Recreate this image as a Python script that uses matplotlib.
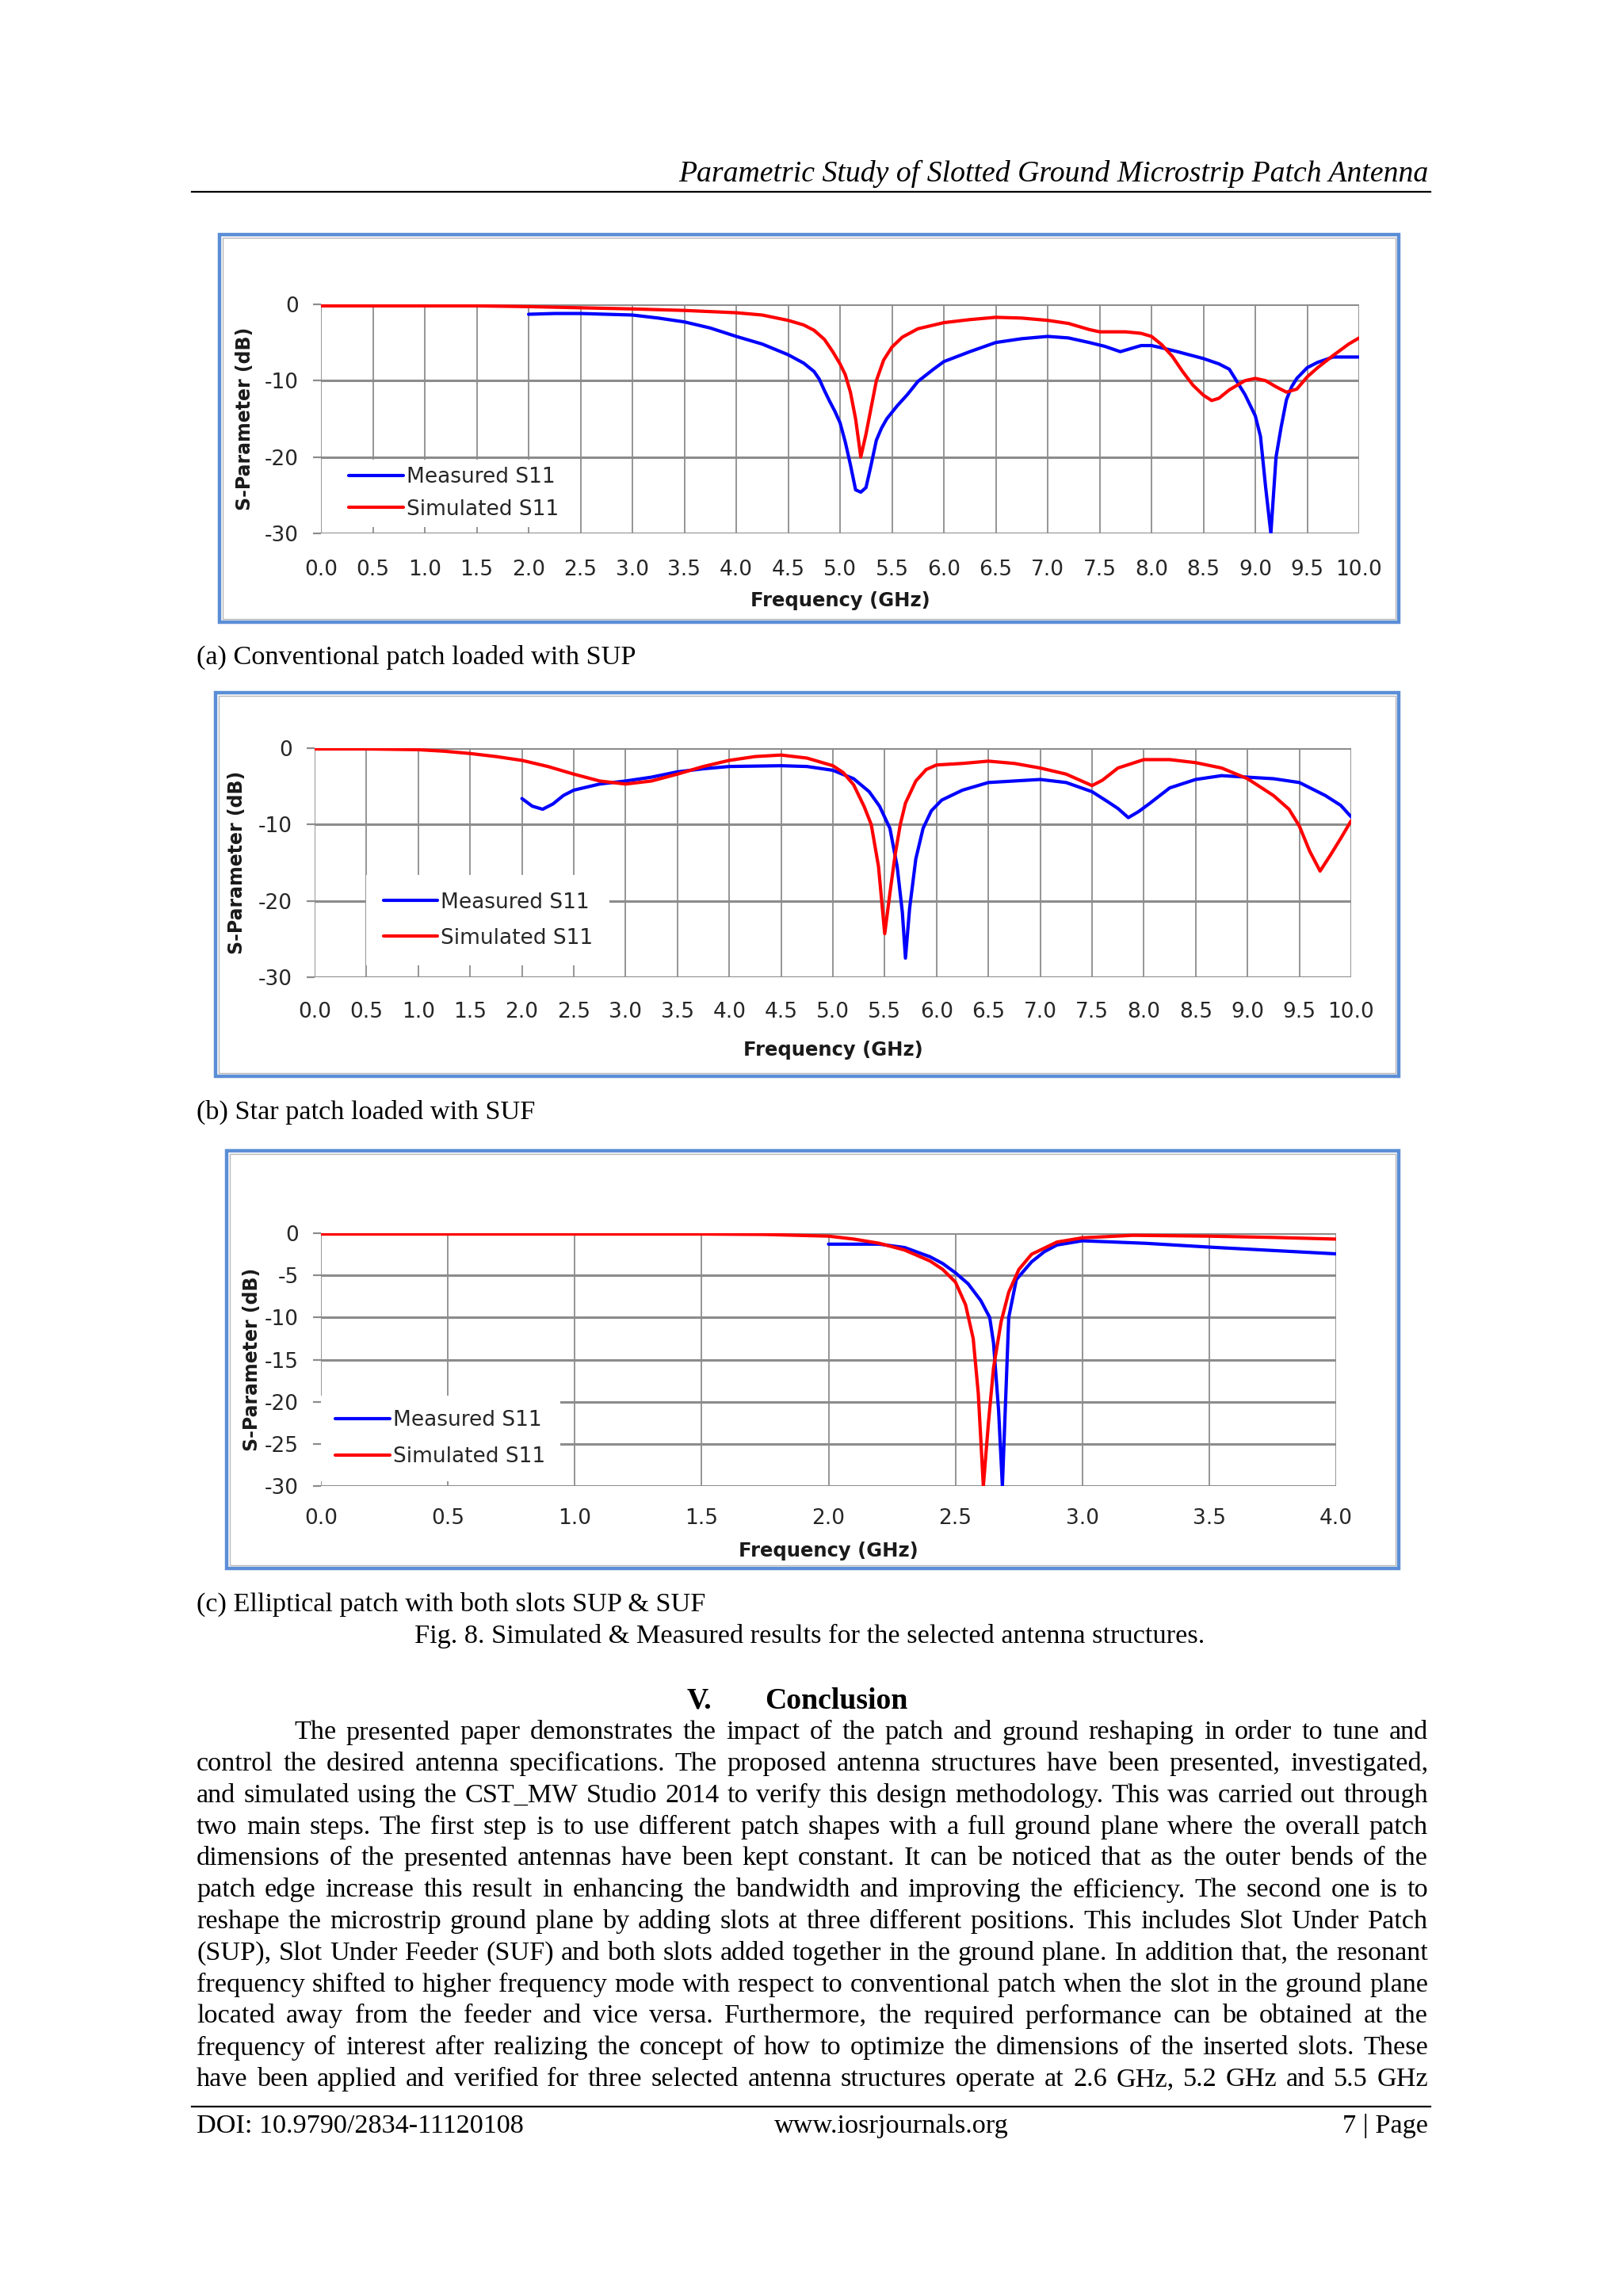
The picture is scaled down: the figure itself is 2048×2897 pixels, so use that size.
import numpy as np
import matplotlib
matplotlib.use("Agg")
import matplotlib.pyplot as plt
from matplotlib.patches import Rectangle
from matplotlib.lines import Line2D

plt.rcParams['axes.unicode_minus'] = False

W, H = 2048, 2897

# ---- data ----
# (a) Conventional patch loaded with SUP
a_sim_f = [0.0, 0.5, 1.0, 1.5, 2.0, 2.5, 3.0, 3.5, 4.0, 4.25, 4.5, 4.65, 4.75, 4.85, 4.93, 5.0, 5.05,
           5.1, 5.15, 5.2, 5.25, 5.3, 5.35, 5.42, 5.5, 5.6, 5.75, 6.0, 6.25, 6.5, 6.75, 7.0, 7.2, 7.4,
           7.5, 7.75, 7.9, 8.0, 8.1, 8.2, 8.3, 8.4, 8.5, 8.58, 8.65, 8.75, 8.9, 9.0, 9.1, 9.2, 9.3,
           9.4, 9.5, 9.6, 9.75, 9.9, 10.0]
a_sim_db = [-0.2, -0.2, -0.2, -0.2, -0.3, -0.45, -0.6, -0.8, -1.1, -1.4, -2.1, -2.7, -3.4, -4.6,
            -6.2, -7.8, -9.2, -11.5, -15.0, -20.0, -17.0, -13.5, -10.0, -7.3, -5.6, -4.3, -3.2, -2.4,
            -2.0, -1.7, -1.8, -2.1, -2.5, -3.3, -3.6, -3.6, -3.8, -4.2, -5.3, -6.8, -8.8, -10.6,
            -11.9, -12.6, -12.3, -11.2, -10.0, -9.7, -10.0, -10.8, -11.5, -11.1, -9.5, -8.3, -6.7,
            -5.2, -4.4]
a_mea_f = [2.0, 2.25, 2.5, 2.75, 3.0, 3.25, 3.5, 3.75, 4.0, 4.25, 4.5, 4.65, 4.75, 4.8, 4.85, 4.9,
           4.95, 5.0, 5.05, 5.1, 5.15, 5.2, 5.25, 5.3, 5.35, 5.4, 5.45, 5.55, 5.65, 5.75, 5.9, 6.0,
           6.25, 6.5, 6.75, 7.0, 7.2, 7.4, 7.55, 7.7, 7.8, 7.9, 8.0, 8.1, 8.25, 8.5, 8.65, 8.75, 8.9,
           9.0, 9.05, 9.1, 9.15, 9.2, 9.25, 9.3, 9.35, 9.4, 9.5, 9.6, 9.75, 9.9, 10.0]
a_mea_db = [-1.3, -1.2, -1.2, -1.3, -1.4, -1.8, -2.3, -3.1, -4.2, -5.2, -6.6, -7.7, -8.8, -9.8,
            -11.3, -12.7, -14.0, -15.5, -18.0, -21.0, -24.3, -24.6, -24.0, -21.0, -17.8, -16.2,
            -15.0, -13.3, -11.8, -10.1, -8.5, -7.5, -6.2, -5.0, -4.5, -4.2, -4.4, -5.0, -5.5, -6.2,
            -5.8, -5.4, -5.4, -5.7, -6.2, -7.1, -7.8, -8.5, -11.8, -14.6, -17.3, -24.0, -30.0,
            -20.0, -16.0, -12.5, -10.8, -9.7, -8.3, -7.6, -6.9, -6.9, -6.9]

# (b) Star patch loaded with SUF
b_sim_f = [0.0, 0.5, 1.0, 1.25, 1.5, 1.75, 2.0, 2.25, 2.5, 2.75, 3.0, 3.25, 3.5, 3.75, 4.0, 4.25,
           4.5, 4.75, 5.0, 5.1, 5.2, 5.3, 5.37, 5.44, 5.5, 5.55, 5.6, 5.65, 5.7, 5.8, 5.9, 6.0, 6.25,
           6.5, 6.75, 7.0, 7.25, 7.4, 7.5, 7.6, 7.75, 8.0, 8.25, 8.5, 8.75, 9.0, 9.25, 9.4, 9.5, 9.6,
           9.7, 9.8, 9.9, 10.0]
b_sim_db = [-0.1, -0.1, -0.2, -0.4, -0.7, -1.1, -1.6, -2.4, -3.4, -4.3, -4.7, -4.3, -3.4, -2.4, -1.6,
            -1.1, -0.9, -1.3, -2.3, -3.2, -4.8, -7.6, -10.0, -15.5, -24.3, -19.0, -14.0, -10.0, -7.2,
            -4.3, -2.8, -2.2, -2.0, -1.7, -2.0, -2.6, -3.4, -4.3, -4.9, -4.2, -2.6, -1.5, -1.5, -1.9,
            -2.6, -4.0, -6.2, -8.0, -10.2, -13.5, -16.1, -14.0, -11.8, -9.5]
b_mea_f = [2.0, 2.1, 2.2, 2.3, 2.4, 2.5, 2.75, 3.0, 3.25, 3.5, 3.75, 4.0, 4.5, 4.75, 5.0, 5.2, 5.35,
           5.45, 5.55, 5.62, 5.67, 5.7, 5.74, 5.8, 5.87, 5.95, 6.05, 6.25, 6.5, 7.0, 7.25, 7.5, 7.65,
           7.75, 7.85, 7.95, 8.05, 8.25, 8.5, 8.75, 9.0, 9.25, 9.5, 9.75, 9.9, 10.0]
b_mea_db = [-6.6, -7.6, -8.0, -7.3, -6.2, -5.5, -4.7, -4.3, -3.8, -3.1, -2.7, -2.4, -2.3, -2.4, -2.9,
            -4.0, -5.7, -7.6, -10.5, -15.5, -21.5, -27.5, -21.0, -14.5, -10.5, -8.2, -6.8, -5.5,
            -4.5, -4.1, -4.5, -5.7, -7.0, -7.9, -9.1, -8.3, -7.3, -5.2, -4.1, -3.6, -3.8, -4.0, -4.5,
            -6.2, -7.5, -9.0]

# (c) Elliptical patch with both slots SUP & SUF
c_sim_f = [0.0, 0.5, 1.0, 1.5, 1.75, 2.0, 2.1, 2.2, 2.3, 2.4, 2.45, 2.5, 2.54, 2.57, 2.59, 2.61, 2.63,
           2.65, 2.68, 2.71, 2.75, 2.8, 2.9, 3.0, 3.2, 3.5, 3.75, 4.0]
c_sim_db = [-0.1, -0.1, -0.1, -0.1, -0.15, -0.35, -0.7, -1.2, -2.0, -3.3, -4.3, -5.8, -8.5, -12.5,
            -19.0, -30.0, -22.5, -16.0, -10.5, -7.0, -4.3, -2.5, -1.05, -0.55, -0.25, -0.35, -0.5, -0.7]
c_mea_f = [2.0, 2.1, 2.2, 2.3, 2.4, 2.45, 2.5, 2.55, 2.6, 2.635, 2.65, 2.67, 2.685, 2.7, 2.71, 2.74,
           2.8, 2.85, 2.9, 3.0, 3.25, 3.5, 3.75, 4.0]
c_mea_db = [-1.3, -1.3, -1.3, -1.7, -2.8, -3.6, -4.7, -6.0, -8.0, -10.0, -13.0, -21.0, -30.0, -18.0,
            -10.0, -5.5, -3.4, -2.2, -1.4, -0.9, -1.2, -1.65, -2.05, -2.45]

x_labels_10 = ['0.0', '0.5', '1.0', '1.5', '2.0', '2.5', '3.0', '3.5', '4.0', '4.5', '5.0', '5.5',
               '6.0', '6.5', '7.0', '7.5', '8.0', '8.5', '9.0', '9.5', '10.0']
x_labels_4 = ['0.0', '0.5', '1.0', '1.5', '2.0', '2.5', '3.0', '3.5', '4.0']
y_labels_10 = ['0', '-10', '-20', '-30']
y_labels_5 = ['0', '-5', '-10', '-15', '-20', '-25', '-30']

captions = ['(a) Conventional patch loaded with SUP',
            '(b) Star patch loaded with SUF',
            '(c) Elliptical patch with both slots SUP & SUF']

body_lines = [
    "The presented paper demonstrates the impact of the patch and ground reshaping in order to tune and",
    "control the desired antenna specifications. The proposed antenna structures have been presented, investigated,",
    "and simulated using the CST_MW Studio 2014 to verify this design methodology. This was carried out through",
    "two main steps. The first step is to use different patch shapes with a full ground plane where the overall patch",
    "dimensions of the presented antennas have been kept constant. It can be noticed that as the outer bends of the",
    "patch edge increase this result in enhancing the bandwidth and improving the efficiency. The second one is to",
    "reshape the microstrip ground plane by adding slots at three different positions. This includes Slot Under Patch",
    "(SUP), Slot Under Feeder (SUF) and both slots added together in the ground plane. In addition that, the resonant",
    "frequency shifted to higher frequency mode with respect to conventional patch when the slot in the ground plane",
    "located away from the feeder and vice versa. Furthermore, the required performance can be obtained at the",
    "frequency of interest after realizing the concept of how to optimize the dimensions of the inserted slots. These",
    "have been applied and verified for three selected antenna structures operate at 2.6 GHz, 5.2 GHz and 5.5 GHz",
]

fig = plt.figure(figsize=(W / 100, H / 100), dpi=100)
fig.patch.set_facecolor('white')

serif = 'Liberation Serif'
body_size = 24.7


def rect(l, t, r, b):
    return [l / W, 1 - b / H, (r - l) / W, (b - t) / H]


def panel(box, axbox, xmax, xlabels, ylabels, sim, mea, leg_anchor, leg_pad, leg_spacing,
          xpad, xlab_y, ylab_x):
    l, t, r, b = box
    fig.patches.append(Rectangle((l / W, 1 - b / H), (r - l) / W, (b - t) / H, transform=fig.transFigure,
                                 fill=False, edgecolor='#5B8ED6', lw=3.2, zorder=0))
    fig.patches.append(Rectangle(((l + 4) / W, 1 - (b - 4) / H), (r - l - 8) / W, (b - t - 8) / H,
                                 transform=fig.transFigure, fill=False, edgecolor='#b8b8b8', lw=1.0,
                                 zorder=0))
    ax = fig.add_axes(rect(*axbox))
    ax.set_xlim(0, xmax)
    ax.set_ylim(-30, 0)
    ax.set_xticks(np.linspace(0, xmax, len(xlabels)))
    ax.set_xticklabels(xlabels)
    ax.set_yticks(np.linspace(0, -30, len(ylabels)))
    ax.set_yticklabels(ylabels)
    for s in ax.spines.values():
        s.set_visible(False)
    ax.set_axisbelow(True)
    ax.grid(axis='x', color='#8c8c8c', lw=1.3)
    ax.grid(axis='y', color='#8c8c8c', lw=2.2)
    ax.tick_params(axis='x', length=0, pad=xpad, labelsize=19, labelcolor='#262626')
    ax.tick_params(axis='y', length=7.2, width=1.6, color='#8c8c8c', pad=13, labelsize=19,
                   labelcolor='#262626')
    ax.plot(mea[0], mea[1], color='#0000FF', lw=3.0, label='Measured S11',
            solid_joinstyle='round', solid_capstyle='round')
    ax.plot(sim[0], sim[1], color='#FF0000', lw=3.0, label='Simulated S11',
            solid_joinstyle='round', solid_capstyle='round')
    ax.set_xlabel('Frequency (GHz)', fontsize=17.5, fontweight='bold', color='#1a1a1a')
    ax.set_ylabel('S-Parameter (dB)', fontsize=17, fontweight='bold', color='#1a1a1a')
    ax.xaxis.set_label_coords(0.5, xlab_y)
    ax.xaxis.label.set_verticalalignment('center')
    ax.yaxis.set_label_coords(ylab_x, 0.5)
    ax.yaxis.label.set_verticalalignment('center')
    leg = ax.legend(loc='center left', bbox_to_anchor=leg_anchor, borderaxespad=0, frameon=True,
                    facecolor='white', edgecolor='none', framealpha=1, fancybox=False,
                    handlelength=2.6, handletextpad=0.15, labelspacing=leg_spacing,
                    borderpad=leg_pad, prop={'size': 19})
    leg.set_zorder(5)
    for txt in leg.get_texts():
        txt.set_color('#262626')
    return ax


panel((277, 296, 1765, 785), (405, 384, 1715, 673), 10, x_labels_10, y_labels_10,
      (a_sim_f, a_sim_db), (a_mea_f, a_mea_db), (0.02, 0.175), 0.35, 0.55, 23.5, -0.294, -0.073)
panel((272, 874, 1765, 1358), (397, 944, 1705, 1233), 10, x_labels_10, y_labels_10,
      (b_sim_f, b_sim_db), (b_mea_f, b_mea_db), (0.05, 0.249), 0.8, 0.72, 22, -0.318, -0.075)
panel((286, 1452, 1765, 1979), (405, 1556, 1686, 1875), 4, x_labels_4, y_labels_5,
      (c_sim_f, c_sim_db), (c_mea_f, c_mea_db), (0.0, 0.188), 0.7, 0.75, 20.5, -0.257, -0.068)

# ---- page text ----
fig.text(1802 / W, 1 - 219 / H, 'Parametric Study of Slotted Ground Microstrip Patch Antenna',
         family=serif, style='italic', fontsize=27.2, ha='right', va='center')
fig.add_artist(Line2D([242 / W, 1805 / W], [1 - 242 / H, 1 - 242 / H], color='black', lw=1.6))
fig.add_artist(Line2D([242 / W, 1805 / W], [1 - 2658 / H, 1 - 2658 / H], color='black', lw=1.6))

for cap, y in zip(captions, [829, 1403, 2024]):
    fig.text(248 / W, 1 - y / H, cap, family=serif, fontsize=body_size, ha='left', va='center')
fig.text(1022 / W, 1 - 2064 / H, 'Fig. 8. Simulated & Measured results for the selected antenna structures.',
         family=serif, fontsize=body_size, ha='center', va='center')
fig.text(867 / W, 1 - 2146 / H, 'V.', family=serif, fontsize=27.2, fontweight='bold', ha='left', va='center')
fig.text(965 / W, 1 - 2146 / H, 'Conclusion', family=serif, fontsize=27.2, fontweight='bold',
         ha='left', va='center')

renderer = fig.canvas.get_renderer()
left, right, indent = 248, 1802, 123
for i, line in enumerate(body_lines):
    y = 2186 + i * 39.8
    words = line.split(' ')
    texts = [fig.text(0, 1 - y / H, w, family=serif, fontsize=body_size, ha='left', va='center')
             for w in words]
    widths = [t.get_window_extent(renderer).width for t in texts]
    x0 = left + (indent if i == 0 else 0)
    gap = (right - x0 - sum(widths)) / (len(words) - 1)
    x = x0
    for t, w in zip(texts, widths):
        t.set_x(x / W)
        x += w + gap

fig.text(248 / W, 1 - 2683 / H, 'DOI: 10.9790/2834-11120108', family=serif, fontsize=body_size,
         ha='left', va='center')
fig.text(1125 / W, 1 - 2683 / H, 'www.iosrjournals.org', family=serif, fontsize=body_size,
         ha='center', va='center')
fig.text(1802 / W, 1 - 2683 / H, '7 | Page', family=serif, fontsize=body_size, ha='right', va='center')

fig.savefig('out.png', dpi=100, facecolor='white')
